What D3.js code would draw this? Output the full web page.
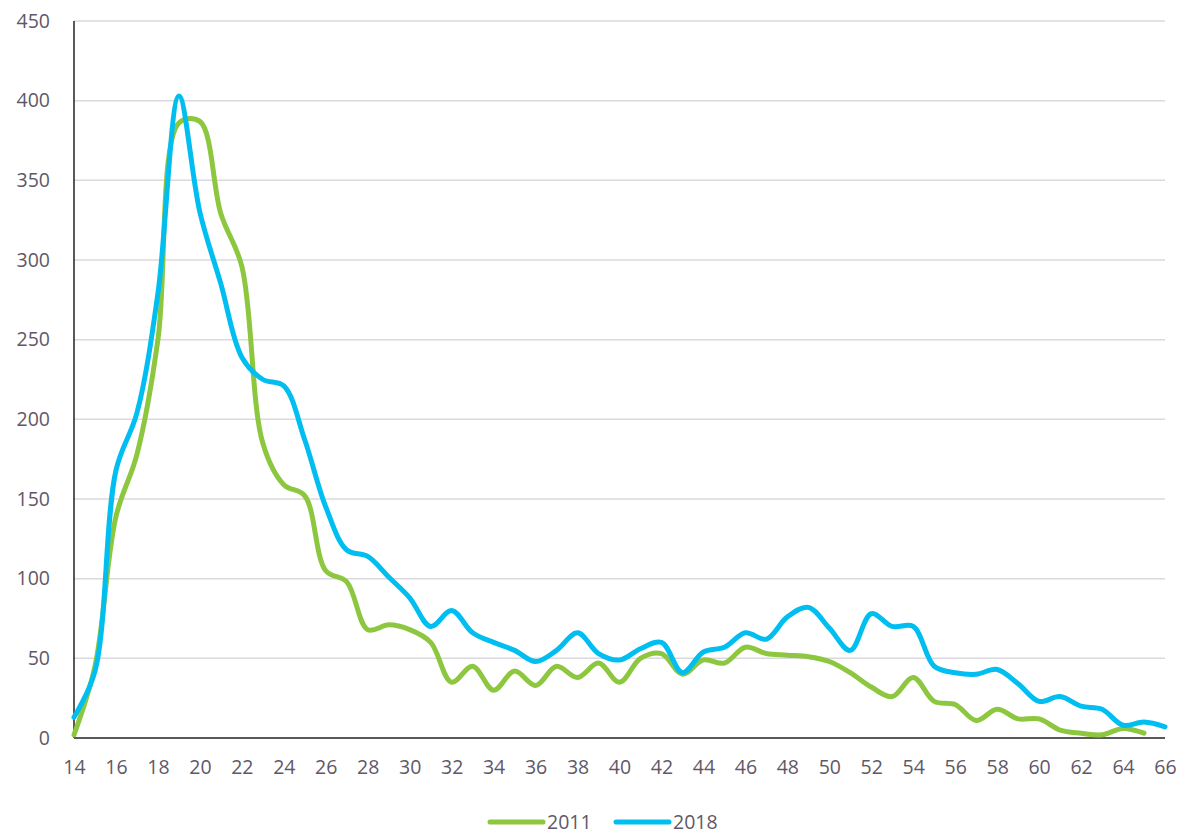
<!DOCTYPE html>
<html>
<head>
<meta charset="utf-8">
<script src="https://cdn.jsdelivr.net/npm/d3@7"></script>
<style>
  body { margin: 0; background: #fff; }
  text { font-family: "Open Sans", "Noto Sans", sans-serif; fill: #5f5868; }
</style>
</head>
<body>
<svg id="chart" width="1191" height="836"></svg>
<script>
// ages on the x axis
const ages2011 = d3.range(14, 66);   // 14..65
const ages2018 = d3.range(14, 67);   // 14..66

const values2011 = [
  2, 45, 139, 178, 250, 386, 387, 329, 296, 185,
  159, 152, 105, 98, 68, 71, 68, 60, 35, 45,
  30, 42, 33, 45, 38, 47, 35, 50, 53, 40,
  49, 47, 57, 53, 52, 51, 48, 41, 32, 26,
  38, 23, 21, 11, 18, 12, 12, 5, 3, 2,
  6, 3
];

const values2018 = [
  13, 42, 168, 204, 279, 403, 330, 285, 239, 225,
  221, 187, 145, 118, 114, 101, 88, 70, 80, 66,
  60, 55, 48, 55, 66, 53, 49, 56, 60, 41,
  54, 57, 66, 62, 76, 82, 69, 55, 78, 70,
  70, 45, 41, 40, 43, 34, 23, 26, 20, 18,
  8, 10, 7
];

const xTicks = d3.range(14, 67, 2);
const yTicks = d3.range(0, 451, 50);

const seriesNames = ["2011", "2018"];
const seriesColors = ["#8dc63f", "#00bff0"];

const svg = d3.select("#chart"),
  margin = { top: 21, right: 26, bottom: 98, left: 74 },
  width = +svg.attr("width") - margin.left - margin.right,
  height = +svg.attr("height") - margin.top - margin.bottom;

const g = svg.append("g")
  .attr("transform", "translate(" + margin.left + "," + margin.top + ")");

const x = d3.scaleLinear().domain([14, 66]).range([0, width]);
const y = d3.scaleLinear().domain([0, 450]).range([height, 0]);

// gridlines
g.append("g")
  .selectAll("line")
  .data(yTicks.filter(d => d > 0))
  .join("line")
  .attr("x1", 0)
  .attr("x2", width)
  .attr("y1", d => y(d))
  .attr("y2", d => y(d))
  .attr("stroke", "#dcd8df")
  .attr("stroke-width", 1.5);

// y axis labels
const yAxis = g.append("g")
  .call(d3.axisLeft(y).tickValues(yTicks).tickSize(0).tickPadding(24));
yAxis.select(".domain").remove();
yAxis.selectAll("text").style("font-size", "19.5px");

// x axis labels
const xAxis = g.append("g")
  .attr("transform", `translate(0, ${height})`)
  .call(d3.axisBottom(x).tickValues(xTicks).tickSize(0).tickPadding(22));
xAxis.select(".domain").remove();
xAxis.selectAll("text").style("font-size", "19.5px");

// axis lines
g.append("line")
  .attr("x1", 0).attr("x2", 0)
  .attr("y1", 0).attr("y2", height)
  .attr("stroke", "#222").attr("stroke-width", 1.5);
g.append("line")
  .attr("x1", 0).attr("x2", width)
  .attr("y1", height).attr("y2", height)
  .attr("stroke", "#222").attr("stroke-width", 1.5);

const line = d3.line()
  .x(d => x(d[0]))
  .y(d => y(d[1]))
  .curve(d3.curveCatmullRom.alpha(0.5));

const series = [
  ages2011.map((a, i) => [a, values2011[i]]),
  ages2018.map((a, i) => [a, values2018[i]])
];

series.forEach((s, i) => {
  g.append("path")
    .datum(s)
    .attr("fill", "none")
    .attr("stroke", seriesColors[i])
    .attr("stroke-width", 5)
    .attr("stroke-linejoin", "round")
    .attr("stroke-linecap", "round")
    .attr("d", line);
});

// legend
const legend = svg.append("g").attr("transform", "translate(490, 822)");
const legendItems = legend.selectAll("g")
  .data(seriesNames)
  .join("g")
  .attr("transform", (d, i) => `translate(${i * 126}, 0)`);
legendItems.append("line")
  .attr("x1", 0).attr("x2", 53)
  .attr("y1", 0).attr("y2", 0)
  .attr("stroke", (d, i) => seriesColors[i])
  .attr("stroke-width", 5)
  .attr("stroke-linecap", "round");
legendItems.append("text")
  .attr("x", 57)
  .attr("dy", "0.35em")
  .style("font-size", "19.5px")
  .text(d => d);
</script>
</body>
</html>
